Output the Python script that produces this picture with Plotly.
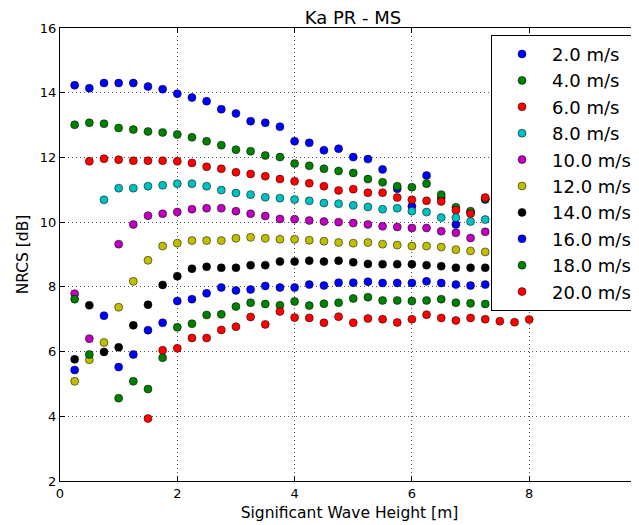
import plotly.graph_objects as go

# Significant wave height bins [m]
swh = [0.25, 0.5, 0.75, 1.0, 1.25, 1.5, 1.75, 2.0, 2.25, 2.5, 2.75, 3.0,
       3.25, 3.5, 3.75, 4.0, 4.25, 4.5, 4.75, 5.0, 5.25, 5.5, 5.75, 6.0,
       6.25, 6.5, 6.75, 7.0, 7.25, 7.5, 7.75, 8.0]

N = None
ws_02 = [14.23, 14.14, 14.30, 14.30, 14.30, 14.19, 14.11, 13.97, 13.85, 13.74, 13.49, 13.36,
         13.12, 13.07, 12.95, 12.50, 12.45, 12.22, 12.27, 12.01, 11.95, 11.63, 11.03, 10.49,
         11.44, 10.75, 9.93, 10.30, 10.70, N, N, N]
ws_04 = [13.01, 13.07, 13.04, 12.91, 12.86, 12.80, 12.77, 12.71, 12.62, 12.50, 12.38, 12.24,
         12.19, 12.06, 12.01, 11.81, 11.74, 11.65, 11.58, 11.52, 11.33, 11.23, 11.11, 11.08,
         11.19, 10.85, 10.46, 10.34, 10.72, N, N, N]
ws_06 = [N, 11.88, 11.96, 11.93, 11.90, 11.90, 11.90, 11.88, 11.83, 11.71, 11.65, 11.54,
         11.49, 11.42, 11.33, 11.26, 11.20, 11.11, 10.98, 11.02, 10.91, 10.91, 10.76, 10.69,
         10.66, 10.64, 10.37, 10.26, 10.76, N, N, N]
ws_08 = [N, N, 10.69, 11.05, 11.05, 11.11, 11.14, 11.19, 11.19, 11.11, 10.99, 10.90,
         10.85, 10.77, 10.74, 10.70, 10.66, 10.59, 10.57, 10.52, 10.47, 10.40, 10.43, 10.34,
         10.31, 10.14, 10.14, 10.02, 10.08, N, N, N]
ws_10 = [7.79, 6.40, N, 9.32, 9.93, 10.20, 10.26, 10.31, 10.40, 10.43, 10.43, 10.34,
         10.26, 10.19, 10.10, 10.09, 10.05, 10.02, 10.00, 9.97, 9.93, 9.87, 9.85, 9.82,
         9.82, 9.72, 9.67, 9.51, 9.70, N, N, N]
ws_12 = [5.08, 5.75, 6.28, 7.37, 8.17, 8.82, 9.26, 9.35, 9.43, 9.43, 9.43, 9.50,
         9.53, 9.50, 9.47, 9.47, 9.44, 9.41, 9.37, 9.35, 9.37, 9.32, 9.29, 9.26,
         9.26, 9.23, 9.15, 9.11, 9.08, N, N, N]
ws_14 = [5.76, 7.43, 5.99, 6.13, 6.81, 7.45, 8.06, 8.33, 8.56, 8.62, 8.59, 8.59,
         8.67, 8.67, 8.78, 8.78, 8.81, 8.78, 8.81, 8.76, 8.71, 8.70, 8.70, 8.70,
         8.67, 8.64, 8.59, 8.59, 8.59, N, N, N]
ws_16 = [5.43, N, 7.11, 5.52, 5.91, 6.66, 6.89, 7.56, 7.62, 7.80, 7.98, 7.89,
         7.92, 8.03, 7.98, 7.98, 8.07, 8.04, 8.13, 8.13, 8.16, 8.12, 8.12, 8.12,
         8.17, 8.12, 8.07, 8.04, 8.07, N, N, N]
ws_18 = [7.62, 5.91, N, 4.56, 5.08, 4.84, 5.81, 6.75, 6.86, 7.13, 7.15, 7.39,
         7.51, 7.47, 7.43, 7.55, 7.42, 7.48, 7.51, 7.64, 7.68, 7.58, 7.58, 7.56,
         7.58, 7.62, 7.51, 7.49, 7.47, N, N, N]
ws_20 = [N, N, N, N, N, 3.93, 6.04, 6.10, 6.42, 6.42, 6.67, 6.77,
         7.07, 6.84, 7.24, 7.05, 7.04, 6.89, 7.08, 6.89, 7.02, 7.00, 6.90, 7.00,
         7.14, 7.04, 6.96, 7.04, 7.00, 6.94, 6.91, 6.99]

series = [("2.0 m/s", ws_02), ("4.0 m/s", ws_04), ("6.0 m/s", ws_06), ("8.0 m/s", ws_08),
          ("10.0 m/s", ws_10), ("12.0 m/s", ws_12), ("14.0 m/s", ws_14),
          ("16.0 m/s", ws_16), ("18.0 m/s", ws_18), ("20.0 m/s", ws_20)]
colors = ["#0000ff", "#008000", "#ff0000", "#00bfbf", "#bf00bf", "#bfbf00", "#000000",
          "#0000ff", "#008000", "#ff0000"]

x_ticks = [0, 2, 4, 6, 8, 10]
y_ticks = [2, 4, 6, 8, 10, 12, 14, 16]

FONT = "DejaVu Sans"
W, H = 631, 517  # page body has an 8px margin; figure fills the rest of the window

fig = go.Figure()
for (name, vals), col in zip(series, colors):
    fig.add_trace(go.Scatter(
        x=swh, y=vals, mode="markers", name=name,
        marker=dict(size=8, color=col, line=dict(color="black", width=0.5)),
    ))

fig.update_layout(
    width=W, height=H, autosize=False,
    margin=dict(l=52, r=0, t=20, b=44),
    paper_bgcolor="white", plot_bgcolor="white",
    font=dict(family=FONT, size=13, color="black"),
    title=dict(text="Ka PR - MS", font=dict(family=FONT, size=18, color="black"),
               xref="container", x=345 / W, xanchor="center",
               yref="container", y=1 - 3 / H, yanchor="top", pad=dict(t=0, b=0, l=0, r=0)),
    showlegend=True,
    legend=dict(
        x=0.9966, xanchor="right", y=0.985, yanchor="top",
        bgcolor="white", bordercolor="black", borderwidth=1,
        font=dict(family=FONT, size=18, color="black"),
        itemwidth=50, tracegroupgap=0,
    ),
)

fig.update_xaxes(
    range=[0, 9.872], tickvals=x_ticks, ticktext=[str(v) for v in x_ticks],
    showline=True, linecolor="black", linewidth=1, mirror="ticks",
    ticks="inside", ticklen=5, tickcolor="black", tickwidth=1,
    showgrid=True, gridcolor="#555555", gridwidth=1, griddash="1px,3px",
    zeroline=False,
    title=dict(text="Significant Wave Height [m]", font=dict(family=FONT, size=15.5), standoff=7),
    tickfont=dict(family=FONT, size=13),
)
fig.update_yaxes(
    range=[2, 16], tickvals=y_ticks, ticktext=[str(v) for v in y_ticks],
    showline=True, linecolor="black", linewidth=1, mirror=False,
    ticks="inside", ticklen=5, tickcolor="black", tickwidth=1,
    showgrid=True, gridcolor="#555555", gridwidth=1, griddash="1px,3px",
    zeroline=False,
    title=dict(text="NRCS [dB]", font=dict(family=FONT, size=15.5), standoff=7),
    tickfont=dict(family=FONT, size=13),
    ticklabelstandoff=0,
)

fig.write_html("out.html")
